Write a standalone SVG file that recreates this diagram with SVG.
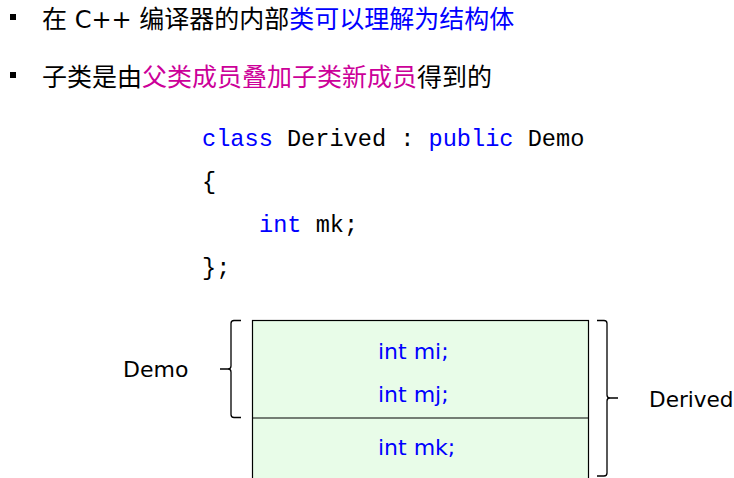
<svg xmlns="http://www.w3.org/2000/svg" width="734" height="478" viewBox="0 0 734 478">
<style>
.t{font-family:"DejaVu Sans","Noto Sans CJK SC",sans-serif;font-size:24px;fill:#000}
.cjk{font-family:"DejaVu Sans","Noto Sans CJK SC",sans-serif;font-size:25px;fill:#000}
.blue{fill:#0000FF}
.mag{fill:#CC0099}
.code{font-family:"Liberation Mono","Courier New",monospace;font-size:23.6px;fill:#000}
.kw{fill:#0000FF}
.lbl{font-family:"DejaVu Sans",sans-serif;font-size:22px;fill:#000}
.mem{font-family:"DejaVu Sans",sans-serif;font-size:22px;fill:#0000FF}
.box{fill:#E8FCE8;stroke:#000;stroke-width:1.2}
.br{fill:none;stroke:#000;stroke-width:1.3}
</style>
<g id="bullets">
<rect x="10" y="14" width="6" height="6" fill="#000"/>
<rect x="10" y="72" width="6" height="6" fill="#000"/>
<text class="cjk" x="42" y="28">在<tspan class="t"> C++ </tspan>编译器的内部<tspan class="blue">类可以理解为结构体</tspan></text>
<text class="cjk" x="42" y="86">子类是由<tspan class="mag">父类成员叠加子类新成员</tspan>得到的</text>
</g>
<g id="code">
<text class="code" x="202" y="146"><tspan class="kw">class</tspan> Derived : <tspan class="kw">public</tspan> Demo</text>
<text class="code" x="202" y="189">{</text>
<text class="code" x="259" y="232"><tspan class="kw">int</tspan> mk;</text>
<text class="code" x="202" y="275">};</text>
</g>
<g id="memory">
<rect class="box" x="252.5" y="320.5" width="336" height="170"/>
<line x1="252.5" y1="418" x2="588.5" y2="418" stroke="#000" stroke-width="1.2"/>
<text class="mem" x="378" y="359">int mi;</text>
<text class="mem" x="378" y="402">int mj;</text>
<text class="mem" x="378" y="455">int mk;</text>
</g>
<g id="connectors">
<path class="br" d="M241,320.5 H234 Q231,320.5 231,323.5 V366 Q231,369 228,369 H220 M228,369 Q231,369 231,372 V414.5 Q231,417.5 234,417.5 H241"/>
<path class="br" d="M597,320.5 H604 Q607,320.5 607,323.5 V395 Q607,398 610,398 H618 M610,398 Q607,398 607,401 V473 Q607,476 604,476 H597"/>
</g>
<g id="labels">
<text class="lbl" x="123" y="377">Demo</text>
<text class="lbl" x="649" y="407" style="font-size:21.6px">Derived</text>
</g>
</svg>
